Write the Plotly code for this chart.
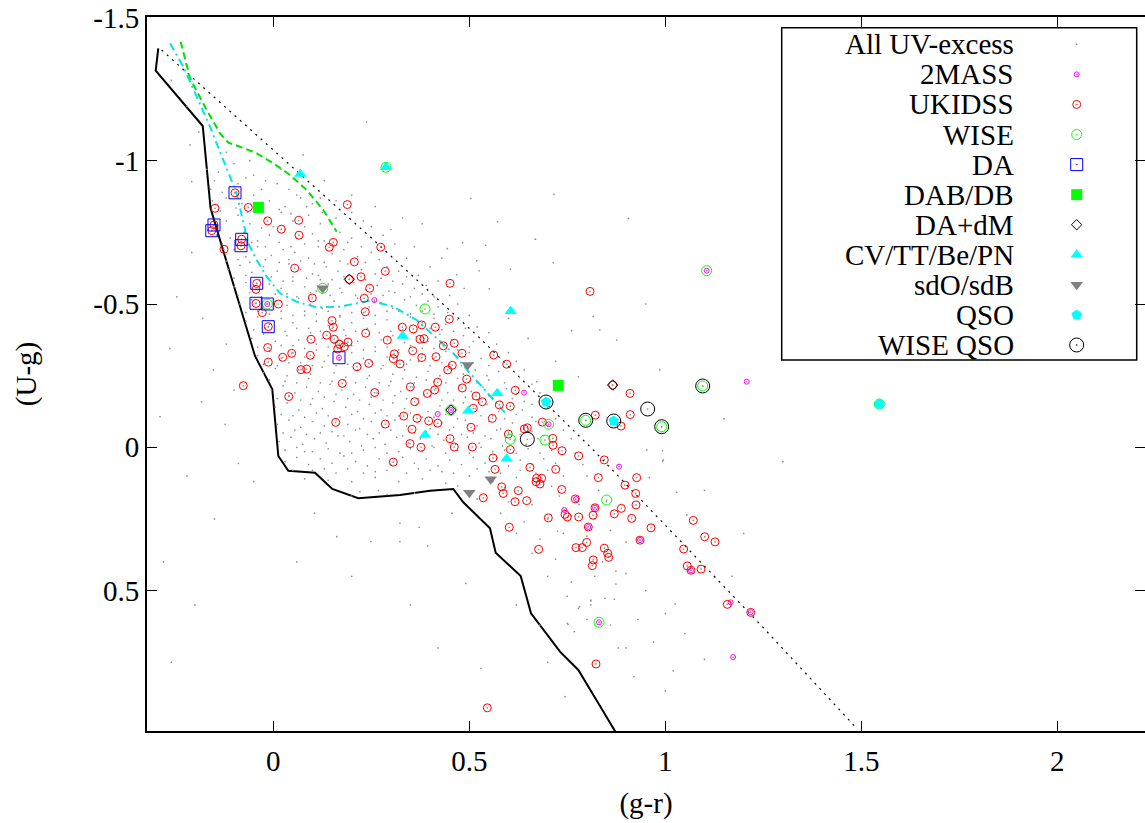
import plotly.graph_objects as go

# ---------------- DATA ----------------
# (g-r, U-g) pairs
all_uv_excess = [
    (-0.15,-0.93),(-0.11,-0.91),(-0.07,-0.94),(-0.03,-0.90),(0.01,-0.92),(-0.13,-0.89),
    (-0.155,-0.86),(-0.12,-0.87),(-0.08,-0.85),(-0.05,-0.88),(-0.01,-0.86),(0.03,-0.84),(0.07,-0.87),(0.10,-0.85),(-0.14,-0.83),
    (-0.15,-0.80),(-0.12,-0.79),(-0.09,-0.81),(-0.06,-0.78),(-0.02,-0.80),(0.02,-0.82),(0.05,-0.79),(0.09,-0.81),(0.12,-0.78),(0.16,-0.80),(0.0,-0.77),(-0.04,-0.83),
    (-0.145,-0.74),(-0.11,-0.73),(-0.075,-0.75),(-0.04,-0.72),(-0.01,-0.74),(0.03,-0.76),(0.06,-0.73),(0.10,-0.745),(0.13,-0.72),(0.17,-0.75),(0.20,-0.73),(0.08,-0.77),(-0.03,-0.765),
    (-0.13,-0.68),(-0.10,-0.69),(-0.07,-0.665),(-0.04,-0.70),(-0.005,-0.67),(0.025,-0.69),(0.055,-0.68),(0.09,-0.66),(0.115,-0.70),(0.15,-0.675),(0.18,-0.69),(0.215,-0.665),(0.25,-0.68),(0.04,-0.655),(0.13,-0.645),
    (-0.115,-0.62),(-0.085,-0.635),(-0.055,-0.61),(-0.025,-0.63),(0.01,-0.615),(0.04,-0.64),(0.07,-0.62),(0.10,-0.605),(0.135,-0.63),(0.165,-0.615),(0.19,-0.64),(0.225,-0.62),(0.26,-0.605),(0.29,-0.63),(0.32,-0.615),(0.05,-0.595),(0.2,-0.595),
    (-0.10,-0.56),(-0.07,-0.575),(-0.04,-0.55),(-0.01,-0.57),(0.02,-0.555),(0.05,-0.58),(0.08,-0.56),(0.11,-0.545),(0.14,-0.57),(0.17,-0.555),(0.205,-0.575),(0.235,-0.55),(0.265,-0.565),(0.295,-0.545),(0.33,-0.57),(0.36,-0.555),(0.39,-0.565),(0.005,-0.535),(0.12,-0.585),(0.25,-0.535),
    (-0.085,-0.50),(-0.055,-0.515),(-0.025,-0.49),(0.005,-0.51),(0.035,-0.495),(0.065,-0.52),(0.095,-0.50),(0.125,-0.485),(0.155,-0.51),(0.185,-0.495),(0.215,-0.52),(0.245,-0.49),(0.275,-0.505),(0.305,-0.485),(0.335,-0.515),(0.365,-0.495),(0.395,-0.51),(0.42,-0.49),(0.08,-0.475),(0.2,-0.47),(0.32,-0.475),(-0.04,-0.475),
    (-0.07,-0.44),(-0.04,-0.455),(-0.01,-0.43),(0.02,-0.45),(0.05,-0.435),(0.08,-0.46),(0.11,-0.44),(0.14,-0.425),(0.17,-0.455),(0.20,-0.435),(0.23,-0.45),(0.26,-0.43),(0.29,-0.445),(0.32,-0.425),(0.35,-0.455),(0.38,-0.435),(0.41,-0.45),(0.44,-0.43),(0.47,-0.445),(0.06,-0.415),(0.18,-0.41),(0.3,-0.405),(0.43,-0.41),
    (-0.055,-0.38),(-0.025,-0.395),(0.005,-0.37),(0.035,-0.39),(0.065,-0.375),(0.095,-0.40),(0.125,-0.38),(0.155,-0.365),(0.185,-0.39),(0.215,-0.37),(0.245,-0.395),(0.275,-0.375),(0.305,-0.39),(0.335,-0.365),(0.365,-0.385),(0.395,-0.37),(0.425,-0.395),(0.455,-0.375),(0.485,-0.39),(0.51,-0.37),(0.02,-0.355),(0.14,-0.35),(0.26,-0.35),(0.38,-0.345),
    (-0.04,-0.32),(-0.01,-0.335),(0.02,-0.31),(0.05,-0.33),(0.08,-0.315),(0.11,-0.34),(0.14,-0.32),(0.17,-0.305),(0.20,-0.33),(0.23,-0.31),(0.26,-0.335),(0.29,-0.315),(0.32,-0.33),(0.35,-0.305),(0.38,-0.325),(0.41,-0.31),(0.44,-0.335),(0.47,-0.315),(0.50,-0.33),(0.53,-0.31),(0.07,-0.295),(0.19,-0.29),(0.31,-0.29),(0.45,-0.29),
    (-0.025,-0.26),(0.005,-0.275),(0.035,-0.25),(0.065,-0.27),(0.095,-0.255),(0.125,-0.28),(0.155,-0.26),(0.185,-0.245),(0.215,-0.27),(0.245,-0.25),(0.275,-0.275),(0.305,-0.255),(0.335,-0.27),(0.365,-0.245),(0.395,-0.265),(0.425,-0.25),(0.455,-0.275),(0.485,-0.255),(0.515,-0.27),(0.545,-0.25),(0.575,-0.265),(0.03,-0.23),(0.15,-0.23),(0.27,-0.225),(0.41,-0.23),(0.52,-0.225),
    (-0.005,-0.20),(0.025,-0.215),(0.055,-0.19),(0.085,-0.21),(0.115,-0.195),(0.145,-0.22),(0.175,-0.20),(0.205,-0.185),(0.235,-0.21),(0.265,-0.19),(0.295,-0.215),(0.325,-0.195),(0.355,-0.21),(0.385,-0.185),(0.415,-0.205),(0.445,-0.19),(0.475,-0.215),(0.505,-0.195),(0.535,-0.21),(0.565,-0.19),(0.595,-0.205),(0.62,-0.185),(0.1,-0.17),(0.22,-0.165),(0.34,-0.17),(0.46,-0.165),(0.58,-0.16),
    (0.005,-0.14),(0.035,-0.155),(0.065,-0.13),(0.095,-0.15),(0.125,-0.135),(0.155,-0.16),(0.185,-0.14),(0.215,-0.125),(0.245,-0.15),(0.275,-0.13),(0.305,-0.155),(0.335,-0.135),(0.365,-0.15),(0.395,-0.125),(0.425,-0.145),(0.455,-0.13),(0.485,-0.155),(0.515,-0.135),(0.545,-0.15),(0.575,-0.125),(0.605,-0.145),(0.635,-0.13),(0.66,-0.15),(0.05,-0.11),(0.17,-0.105),(0.29,-0.11),(0.41,-0.105),(0.53,-0.11),
    (0.01,-0.08),(0.04,-0.095),(0.07,-0.07),(0.10,-0.09),(0.13,-0.075),(0.16,-0.10),(0.19,-0.08),(0.22,-0.065),(0.25,-0.09),(0.28,-0.07),(0.31,-0.095),(0.34,-0.075),(0.37,-0.09),(0.40,-0.065),(0.43,-0.085),(0.46,-0.07),(0.49,-0.095),(0.52,-0.075),(0.55,-0.09),(0.58,-0.065),(0.61,-0.085),(0.64,-0.07),(0.67,-0.09),(0.70,-0.075),(0.12,-0.05),(0.24,-0.045),(0.36,-0.05),(0.48,-0.045),(0.6,-0.05),
    (0.015,-0.02),(0.045,-0.035),(0.075,-0.01),(0.105,-0.03),(0.135,-0.015),(0.165,-0.04),(0.195,-0.02),(0.225,-0.005),(0.255,-0.03),(0.285,-0.01),(0.315,-0.035),(0.345,-0.015),(0.375,-0.03),(0.405,-0.005),(0.435,-0.025),(0.465,-0.01),(0.495,-0.035),(0.525,-0.015),(0.555,-0.03),(0.585,-0.005),(0.615,-0.025),(0.645,-0.01),(0.675,-0.03),(0.705,-0.015),(0.08,0.015),(0.2,0.02),(0.32,0.015),(0.44,0.02),(0.56,0.015),(0.68,0.02),
    (0.03,0.05),(0.06,0.035),(0.09,0.06),(0.12,0.04),(0.15,0.055),(0.18,0.03),(0.21,0.05),(0.24,0.065),(0.27,0.04),(0.30,0.06),(0.33,0.035),(0.36,0.055),(0.39,0.04),(0.42,0.065),(0.45,0.045),(0.48,0.06),(0.51,0.035),(0.54,0.055),(0.57,0.04),(0.60,0.065),(0.63,0.045),(0.66,0.06),(0.69,0.04),(0.72,0.055),(0.1,0.08),(0.26,0.085),(0.4,0.08),(0.55,0.085),(0.7,0.08),
    (0.08,0.11),(0.14,0.115),(0.2,0.12),(0.26,0.105),(0.32,0.12),(0.38,0.11),(0.44,0.125),(0.5,0.10),(0.56,0.12),(0.62,0.105),(0.68,0.115),(0.74,0.10),(0.47,0.135),(0.59,0.14),(0.71,0.135),
    (0.2,0.17),(0.29,0.165),(0.36,0.16),(0.52,0.18),(0.6,0.19),(0.66,0.2),(0.73,0.17),(0.78,0.2),(0.58,0.23),(0.64,0.26),(0.7,0.25),(0.76,0.24),(0.82,0.25),(0.62,0.3),(0.68,0.32),(0.74,0.3),(0.8,0.31),(0.86,0.29),(0.9,0.33),(0.66,0.37),(0.72,0.39),(0.78,0.36),(0.84,0.4),(0.7,0.45),(0.76,0.47),(0.82,0.45),(0.9,0.44),(0.75,0.52),(0.81,0.55),(0.87,0.53),(0.95,0.5),(0.8,0.6),(0.86,0.62),(0.93,0.6),(1.0,0.58),(0.88,0.7),(0.97,0.68),(1.05,0.65),(0.92,0.8),(1.02,0.78),(1.1,0.74),
    (-0.26,-1.28),(-0.22,-1.19),(-0.19,-1.1),(-0.2125,-1.055),(-0.208,-0.927),(-0.06,-1.0),(0.076,-1.02),(0.238,-1.135),(0.02,-0.97),(-0.12,-1.03),(0.13,-0.93),(0.2,-0.88),(0.26,-0.84),(0.33,-0.8),(0.504,-0.869),(0.716,-0.883),(0.572,-0.787),(0.906,-0.799),(0.669,-0.726),(0.483,-0.714),(0.444,-0.693),(0.542,-0.705),(0.519,-0.651),(0.714,-0.644),(0.605,-0.622),(0.525,-0.616),(0.468,-0.602),(0.551,-0.553),(0.487,-0.555),(0.36,-0.7),(0.4,-0.63),(0.3,-0.76),(0.38,-0.78),(0.43,-0.66),
    (-0.208,-0.68),(-0.264,-0.345),(-0.183,-0.159),(-0.123,-0.08),(-0.089,0.056),(-0.246,-0.525),(-0.153,-0.27),(-0.289,-0.107),(-0.18,-0.45),(-0.12,-0.36),(-0.1,-0.2),(-0.22,0.1),(-0.15,0.25),(-0.05,0.12),(-0.28,0.4),(-0.2,0.55),(-0.26,0.75),
    (0.105,0.23),(0.162,0.312),(0.249,0.329),(0.323,0.329),(0.394,0.344),(0.491,0.475),(0.53,0.771),(0.744,0.87),(0.323,0.265),(0.372,0.279),(0.221,0.155),(0.268,0.151),(0.456,0.23),(0.75,0.614),(0.768,0.643),(0.781,0.556),(0.81,0.536),(0.725,0.292),(0.06,0.4),(0.2,0.45),(0.35,0.55),(0.42,0.7),
    (0.668,-0.726),(0.816,-0.456),(0.876,-0.374),(0.833,-0.409),(0.986,-0.27),(0.995,0.044),(0.953,0.009),(0.778,-0.246),(0.761,-0.407),(0.672,-0.229),(1.029,0.157),(1.055,0.236),(0.993,0.012),(0.993,0.048),(0.959,0.106),(0.874,0.432),(0.874,0.477),(0.846,0.527),(0.81,0.533),(0.778,0.562),(1.025,0.547),(0.752,0.618),(1.15,-0.1),(1.3,0.05),(1.2,0.3),(0.72,-0.3),(0.65,-0.38),(0.6,-0.45),(0.95,-0.5),(1.1,0.15),(1.17,0.45),(0.9,0.7),(1.0,0.85),(0.62,0.55),(0.68,0.62),(0.7,0.75),
    (-0.135,-0.825),(-0.095,-0.835),(-0.065,-0.82),(-0.025,-0.84),(0.015,-0.83),(0.045,-0.815),(0.085,-0.84),(0.125,-0.82),
    (-0.13,-0.71),(-0.095,-0.705),(-0.055,-0.715),(-0.02,-0.70),(0.015,-0.715),(0.045,-0.70),(0.08,-0.71),(0.115,-0.72),(0.155,-0.705),(0.19,-0.715),(0.225,-0.70),
    (-0.12,-0.65),(-0.09,-0.655),(-0.06,-0.645),(-0.02,-0.655),(0.015,-0.645),(0.07,-0.65),(0.105,-0.64),(0.17,-0.65),(0.235,-0.645),(0.27,-0.655),
    (-0.1,-0.59),(-0.07,-0.6),(-0.035,-0.585),(-0.005,-0.595),(0.025,-0.58),(0.085,-0.59),(0.115,-0.6),(0.15,-0.585),(0.18,-0.595),(0.235,-0.585),(0.275,-0.59),(0.305,-0.58),(0.34,-0.595),
    (-0.09,-0.53),(-0.06,-0.54),(-0.03,-0.525),(0.035,-0.535),(0.06,-0.525),(0.095,-0.54),(0.145,-0.53),(0.175,-0.54),(0.21,-0.53),(0.28,-0.53),(0.31,-0.54),(0.35,-0.525),(0.38,-0.535),(0.41,-0.525),
    (-0.07,-0.47),(-0.01,-0.465),(0.02,-0.475),(0.05,-0.46),(0.11,-0.465),(0.14,-0.475),(0.17,-0.46),(0.23,-0.47),(0.26,-0.46),(0.29,-0.475),(0.35,-0.465),(0.38,-0.475),(0.41,-0.465),(0.445,-0.47),
    (-0.05,-0.41),(-0.02,-0.415),(0.03,-0.405),(0.09,-0.415),(0.12,-0.405),(0.15,-0.415),(0.21,-0.405),(0.24,-0.415),(0.27,-0.4),(0.33,-0.41),(0.36,-0.4),(0.4,-0.415),(0.46,-0.405),(0.49,-0.415),
    (-0.04,-0.35),(-0.01,-0.345),(0.05,-0.355),(0.08,-0.345),(0.11,-0.36),(0.17,-0.345),(0.2,-0.355),(0.23,-0.34),(0.29,-0.35),(0.32,-0.34),(0.35,-0.355),(0.41,-0.345),(0.44,-0.355),(0.47,-0.34),(0.5,-0.35),
    (-0.025,-0.29),(0.01,-0.285),(0.04,-0.295),(0.1,-0.285),(0.13,-0.3),(0.16,-0.285),(0.22,-0.29),(0.25,-0.3),(0.28,-0.285),(0.34,-0.29),(0.37,-0.3),(0.4,-0.285),(0.43,-0.295),(0.48,-0.285),(0.51,-0.295),(0.55,-0.285),
    (-0.01,-0.235),(0.06,-0.225),(0.09,-0.24),(0.12,-0.225),(0.18,-0.235),(0.21,-0.225),(0.24,-0.24),(0.3,-0.23),(0.33,-0.24),(0.36,-0.225),(0.39,-0.235),(0.44,-0.225),(0.47,-0.24),(0.5,-0.23),(0.55,-0.235),(0.59,-0.225),
    (0.01,-0.17),(0.04,-0.18),(0.07,-0.165),(0.13,-0.175),(0.16,-0.185),(0.19,-0.17),(0.25,-0.175),(0.28,-0.165),(0.31,-0.18),(0.37,-0.17),(0.4,-0.18),(0.43,-0.165),(0.49,-0.175),(0.52,-0.165),(0.55,-0.18),(0.61,-0.17),(0.64,-0.16),
    (0.02,-0.115),(0.08,-0.105),(0.11,-0.12),(0.14,-0.11),(0.2,-0.115),(0.23,-0.1),(0.26,-0.12),(0.32,-0.11),(0.35,-0.12),(0.38,-0.105),(0.44,-0.115),(0.47,-0.1),(0.5,-0.12),(0.56,-0.11),(0.59,-0.1),(0.62,-0.115),(0.66,-0.105),
    (0.025,-0.05),(0.055,-0.06),(0.085,-0.045),(0.15,-0.055),(0.18,-0.04),(0.21,-0.06),(0.27,-0.05),(0.3,-0.06),(0.33,-0.04),(0.39,-0.055),(0.42,-0.045),(0.45,-0.06),(0.51,-0.05),(0.54,-0.04),(0.57,-0.06),(0.63,-0.045),(0.66,-0.055),(0.69,-0.04),
    (0.03,0.01),(0.06,0.0),(0.1,0.015),(0.14,0.005),(0.17,0.02),(0.23,0.01),(0.26,0.0),(0.29,0.02),(0.35,0.005),(0.38,0.015),(0.41,0.0),(0.47,0.01),(0.5,0.02),(0.53,0.0),(0.59,0.01),(0.62,0.02),(0.65,0.005),(0.71,0.01),
    (0.05,0.08),(0.13,0.075),(0.16,0.09),(0.19,0.075),(0.23,0.09),(0.29,0.08),(0.34,0.09),(0.37,0.075),(0.43,0.085),(0.46,0.09),(0.52,0.075),(0.58,0.09),(0.63,0.08),(0.67,0.09),(0.73,0.075),
    (-0.17,-0.97),(-0.14,-0.96),(-0.1,-0.99),(-0.16,-0.9),(-0.09,-0.92),(-0.05,-0.95),(-0.02,-0.93),(0.04,-0.9),(0.06,-0.88),(0.12,-0.87),(0.16,-0.86),(0.2,-0.82),(0.23,-0.79),(0.25,-0.77),(0.28,-0.74),(0.31,-0.71),(0.34,-0.66),(0.37,-0.6),(0.42,-0.58),(0.45,-0.53),(0.47,-0.5),(0.5,-0.46),(0.52,-0.42),(0.55,-0.4),(0.57,-0.36),(0.6,-0.33),(0.62,-0.3),(0.64,-0.27),(0.66,-0.22),(0.68,-0.19),(0.7,-0.14),(0.72,-0.1),(0.74,-0.06),(0.76,-0.03),(0.77,0.02),(0.79,0.06),(0.8,0.1),(0.83,0.15),(0.85,0.19),
]

twomass = [(-0.0153,-0.5),(0.2577,-0.514),(0.1676,-0.3126),(0.4194,-0.1162),(0.6395,-0.1905),(0.4533,-0.1301),
           (1.1056,-0.6162),(0.7025,-0.0803),(0.8819,0.0677),(1.2077,-0.2289),(0.7722,0.1804),(0.7423,0.2188),
           (0.8207,0.2107),(0.8036,0.2781),(0.9355,0.3235),(1.0656,0.4292),(1.1668,0.5408),(1.2179,0.5757),
           (0.8309,0.6106),(1.173,0.732)]

ukidss = [
    (-0.0977,-0.888),(-0.1487,-0.834),(-0.0638,-0.837),(-0.0143,-0.790),(0.0648,-0.792),(0.0204,-0.761),(0.0656,-0.740),
    (0.1888,-0.847),(0.1531,-0.715),(0.1429,-0.698),(0.274,-0.698),(-0.1513,-0.776),(-0.157,-0.756),(-0.0806,-0.726),
    (-0.0824,-0.703),(-0.1258,-0.691),(0.2066,-0.647),(0.2857,-0.614),(0.0546,-0.625),(0.2237,-0.595),(-0.0423,-0.572),
    (-0.0441,-0.551),(0.1939,-0.586),(0.2459,-0.555),(0.0995,-0.521),(0.2321,-0.520),(-0.0441,-0.502),(0.0128,-0.500),
    (-0.0281,-0.470),(0.2347,-0.473),(0.1497,-0.442),(0.1531,-0.419),(-0.0128,-0.421),(0.0962,-0.377),(0.1362,-0.391),
    (0.1556,-0.377),(0.1684,-0.360),(0.1906,-0.367),(0.1811,-0.351),(0.1643,-0.343),(0.2357,-0.398),(0.2908,-0.374),
    (0.3571,-0.413),(0.3786,-0.427),(0.4133,-0.419),(0.3742,-0.377),(0.3844,-0.379),(0.3291,-0.419),(-0.0143,-0.348),
    (0.024,-0.314),(0.0469,-0.328),(0.0944,-0.321),(-0.0128,-0.297),(0.0707,-0.271),(0.0852,-0.273),(0.2135,-0.281),
    (0.2434,-0.293),(0.3087,-0.326),(0.3061,-0.309),(0.3232,-0.291),(0.3556,-0.337),(0.3786,-0.313),(0.415,-0.316),
    (-0.0765,-0.215),(0.0393,-0.177),(0.176,-0.223),(0.2587,-0.191),(0.3495,-0.211),(0.3929,-0.188),(0.4117,-0.200),
    (0.4194,-0.227),(0.3607,-0.159),(0.3327,-0.109),(0.3666,-0.101),(0.3964,-0.092),(0.4194,-0.084),(0.1592,-0.087),
    (0.2857,-0.081),(0.3538,-0.063),(0.3487,-0.013),(0.3768,0.0),(0.3061,0.052),
    (0.4508,-0.572),(0.8079,-0.544),(0.449,-0.447),(0.4337,-0.354),(0.4617,-0.363),(0.4814,-0.328),(0.5622,-0.322),
    (0.4566,-0.286),(0.4449,-0.270),(0.5954,-0.290),(0.4934,-0.238),(0.4821,-0.207),(0.6173,-0.199),(0.5171,-0.179),
    (0.5332,-0.159),(0.5765,-0.148),(0.6046,-0.143),(0.5102,-0.136),(0.91,-0.188),(0.9107,-0.114),(0.8214,-0.112),
    (0.887,-0.074),(0.5587,-0.101),(0.5043,-0.070),(0.6862,-0.088),(0.6403,-0.064),(0.648,-0.068),(0.5995,-0.046),
    (0.4508,-0.030),(0.4617,-0.001),(0.5077,-0.001),(0.7128,-0.031),(0.7135,-0.007),(0.7365,0.012),(0.6046,0.008),
    (0.7791,0.030),(0.5605,0.037),(0.8444,0.044),(0.5656,0.077),(0.6548,0.070),(0.7204,0.077),(0.6847,0.108),
    (0.6719,0.108),(0.8291,0.106),(0.927,0.106),(0.8658,-0.217),
    (0.8972,0.132),(0.9245,0.161),(0.7357,0.147),(0.7704,0.180),(0.8207,0.211),(0.8878,0.213),(0.9253,0.201),
    (0.8699,0.232),(0.8156,0.237),(0.7791,0.243),(0.75,0.243),(0.7441,0.234),(0.9143,0.248),(0.8036,0.278),
    (0.9635,0.281),(0.9355,0.324),(1.0714,0.255),(1.1005,0.312),(1.1268,0.330),(1.0469,0.355),(0.7995,0.332),
    (0.7722,0.350),(0.7883,0.350),(0.8444,0.352),(0.853,0.370),(0.8556,0.384),(0.8163,0.393),(0.8138,0.413),
    (1.0561,0.414),(1.0911,0.425),(1.0656,0.429),(1.1582,0.548),(1.2179,0.576),
    (0.5827,0.138),(0.5867,0.161),(0.625,0.151),(0.5357,0.176),(0.6166,0.190),(0.6464,0.186),(0.6702,0.120),
    (0.6803,0.128),(0.7015,0.246),(0.602,0.279),(0.677,0.356),(0.8232,0.756),(0.5459,0.909),
]

wise = [(0.2875,-0.977),(0.126,-0.5548),(-0.0153,-0.5),(0.387,-0.4826),(1.1056,-0.6162),(0.797,-0.0942),
        (0.9908,-0.0719),(1.0954,-0.2139),(0.7025,-0.0803),(0.6046,-0.0279),(0.6931,-0.0255),(0.4533,-0.1301),
        (0.8505,0.1839),(0.8309,0.6106),(1.546,-0.151)]

da = [(-0.0977,-0.888),(-0.1513,-0.7757),(-0.157,-0.7557),(-0.0806,-0.7257),(-0.0824,-0.7034),
      (-0.0423,-0.5722),(-0.0441,-0.5024),(-0.0153,-0.5),(-0.0128,-0.4208),(0.1676,-0.3126)]

dab_db = [(-0.038,-0.837),(0.727,-0.216)]

da_dm = [(0.1939,-0.5862),(0.4533,-0.1301),(0.8658,-0.2174)]

cv_tt_be_pn = [(0.0689,-0.9536),(0.2875,-0.977),(0.3301,-0.3883),(0.387,-0.0429),(0.6056,-0.4745),
               (0.5714,-0.1884),(0.4974,-0.1277),(0.5954,0.0398)]

sdo_sdb = [(0.126,-0.5548),(0.4959,-0.2872),(0.5546,0.1117),(0.5,0.1584)]

qso = [(0.6957,-0.158),(0.8684,-0.0918),(1.546,-0.151)]

wise_qso = [(0.6957,-0.158),(0.797,-0.0942),(0.8684,-0.0918),(0.955,-0.1336),(0.9908,-0.0719),
            (1.0954,-0.2139),(0.648,-0.0279)]

# model / boundary curves
boundary_solid = [(-0.2934,-1.392),(-0.300,-1.314),(-0.180,-1.121),(-0.160,-0.834),(-0.129,-0.692),
                  (-0.0467,-0.3186),(-0.0026,-0.2024),(0.0128,0.0304),(0.0383,0.0816),(0.1064,0.0886),
                  (0.1505,0.1455),(0.2168,0.178),(0.3232,0.1664),(0.3997,0.1514),(0.4592,0.1455),
                  (0.4847,0.1919),(0.5528,0.2826),(0.5673,0.3678),(0.6311,0.4491),(0.6574,0.5792),
                  (0.7314,0.7132),(0.7781,0.7770),(0.8334,0.9027),(0.876,1.0)]
boundary_dotted = [(-0.2847,-1.386),(0.2467,-0.7348),(0.5273,-0.3803),(0.8163,0.0094),(1.2413,0.6166),(1.4883,0.9805)]
green_dashed = [(-0.2362,-1.4152),(-0.2125,-1.2875),(-0.1699,-1.1769),(-0.136,-1.0956),(-0.1148,-1.0628),
                (-0.085,-1.0489),(-0.0423,-1.0258),(0.0,-0.9909),(0.0426,-0.9501),(0.0852,-0.8977),
                (0.1276,-0.8280),(0.1617,-0.7523)]
cyan_dashdot = [(-0.2635,-1.4096),(-0.2296,-1.328),(-0.1954,-1.2233),(-0.1615,-1.1186),(-0.1276,-1.0024),
                (-0.0934,-0.8862),(-0.0645,-0.7128),(-0.0423,-0.6535),(-0.0168,-0.5953),(0.0171,-0.5373),
                (0.0597,-0.508),(0.1107,-0.4885),(0.1702,-0.4906),(0.2467,-0.5115),(0.3061,-0.4906),
                (0.3658,-0.4442),(0.4168,-0.3803),(0.4592,-0.328),(0.5018,-0.2582),(0.5444,-0.194),(0.5911,-0.1207)]

x_ticks = [0, 0.5, 1, 1.5, 2]
y_ticks = [-1.5, -1, -0.5, 0, 0.5]
x_title = "(g-r)"
y_title = "(U-g)"

# ---------------- STYLE ----------------
FONT = "Liberation Serif, Times New Roman, serif"
FS = 29

def xs(pairs):
    return [p[0] for p in pairs]

def ys(pairs):
    return [p[1] for p in pairs]

series = [
    # name, data, marker (plot), legend symbol
    ("All UV-excess", None, dict(symbol="circle", size=1.7, color="#909090", line=dict(width=0)), "circle"),
    ("2MASS", twomass, dict(symbol="circle-open", size=5, color="#ff00ff", line=dict(width=1, color="#ff00ff")), "circle-open-dot"),
    ("UKIDSS", ukidss, dict(symbol="circle-open", size=8, color="#ff0000", line=dict(width=1, color="#ff0000")), "circle-open-dot"),
    ("WISE", wise, dict(symbol="circle-open", size=10, color="#00ff00", line=dict(width=1, color="#00ff00")), "circle-open-dot"),
    ("DA", da, dict(symbol="square-open", size=12, color="#0000ff", line=dict(width=1, color="#0000ff")), "square-open-dot"),
    ("DAB/DB", dab_db, dict(symbol="square", size=11, color="#00ff00", line=dict(width=0)), "square"),
    ("DA+dM", da_dm, dict(symbol="diamond-open", size=8, color="#000000", line=dict(width=1, color="#000000")), "diamond-open"),
    ("CV/TT/Be/PN", cv_tt_be_pn, dict(symbol="triangle-up", size=11, color="#00ffff", line=dict(width=0)), "triangle-up"),
    ("sdO/sdB", sdo_sdb, dict(symbol="triangle-down", size=11, color="#808080", line=dict(width=0)), "triangle-down"),
    ("QSO", qso, dict(symbol="pentagon", size=11, color="#00ffff", line=dict(width=0)), "pentagon"),
    ("WISE QSO", wise_qso, dict(symbol="circle-open", size=14, color="#000000", line=dict(width=1, color="#000000")), "circle-open-dot"),
]

fig = go.Figure()

# model curves (drawn first)
fig.add_trace(go.Scatter(x=xs(boundary_solid), y=ys(boundary_solid), mode="lines",
                         line=dict(color="black", width=2), showlegend=False, hoverinfo="skip"))
fig.add_trace(go.Scatter(x=xs(boundary_dotted), y=ys(boundary_dotted), mode="lines",
                         line=dict(color="black", width=1.2, dash="2px,5px"), showlegend=False, hoverinfo="skip"))
fig.add_trace(go.Scatter(x=xs(green_dashed), y=ys(green_dashed), mode="lines",
                         line=dict(color="#00e000", width=2, dash="7px,4px"), showlegend=False, hoverinfo="skip"))
fig.add_trace(go.Scatter(x=xs(cyan_dashdot), y=ys(cyan_dashdot), mode="lines",
                         line=dict(color="#00e5e5", width=2, dash="8px,4px,2px,4px"), showlegend=False, hoverinfo="skip"))

# The full UV-excess sample includes every catalogued object
subsets = twomass + ukidss + wise + da + dab_db + da_dm + cv_tt_be_pn + sdo_sdb + qso + wise_qso
all_points = all_uv_excess + subsets
for name, data, mk, _ in series:
    d = all_points if data is None else data
    fig.add_trace(go.Scatter(x=xs(d), y=ys(d), mode="markers", name=name, marker=mk,
                             showlegend=False, cliponaxis=True))

# ---------------- custom gnuplot-style key (symbol to the right of text) ----------------
PL, PR, PT, PB = 147, 1145, 17, 731
key_box = (781.7, 1136.7, 27.7, 360.0)
key_top, key_step = 44.3, 30.07
key_text_x, key_sym_x = 1016, 1076.7

fig.add_shape(type="rect", xref="x2", yref="y2", x0=key_box[0], x1=key_box[1], y0=key_box[2], y1=key_box[3],
              line=dict(color="black", width=1.5), fillcolor="white", layer="below")
for i, (name, data, mk, legsym) in enumerate(series):
    yy = key_top + i * key_step
    fig.add_annotation(xref="x2", yref="y2", x=key_text_x, y=yy, text=name, showarrow=False,
                       xanchor="right", yanchor="middle", font=dict(family=FONT, size=FS, color="black"))
    lm = dict(mk)
    lm["symbol"] = legsym
    fig.add_trace(go.Scatter(x=[key_sym_x], y=[yy], xaxis="x2", yaxis="y2", mode="markers",
                             marker=lm, showlegend=False, hoverinfo="skip"))

x_range = [(PL - 273.3) / 392, (PR - 273.3) / 392]
y_range = [(PB - 447.3) / 286.6, (PT - 447.3) / 286.6]

axis_common = dict(showgrid=False, zeroline=False, showline=True, linecolor="black", linewidth=2,
                   ticks="inside", ticklen=10, tickwidth=1, tickcolor="black", mirror="ticks",
                   tickfont=dict(family=FONT, size=FS, color="black"))

fig.update_layout(
    width=1145, height=823,
    margin=dict(l=PL, r=1145 - PR, t=PT, b=823 - PB, autoexpand=False),
    paper_bgcolor="white", plot_bgcolor="white",
    showlegend=False,
    xaxis=dict(range=x_range, tickvals=x_ticks, ticktext=[f"{v:g}" for v in x_ticks],
               title=dict(text=x_title, font=dict(family=FONT, size=FS, color="black"), standoff=17),
               ticklabelstandoff=3, **axis_common),
    yaxis=dict(range=y_range, tickvals=y_ticks, ticktext=[f"{v:g}" for v in y_ticks],
               title=dict(text=y_title, font=dict(family=FONT, size=FS, color="black"), standoff=48),
               ticklabelstandoff=0, **axis_common),
    xaxis2=dict(overlaying="x", range=[PL, PR], visible=False, anchor="y2"),
    yaxis2=dict(overlaying="y", range=[PB, PT], visible=False, anchor="x2"),
)

# remove the browser's default 8px page margin so the figure sits at the window origin
fig.write_html("out.html",
               config={"displayModeBar": False},
               post_script="document.body.style.margin='0';document.body.style.overflow='hidden';"
                           "document.documentElement.style.overflow='hidden';")
